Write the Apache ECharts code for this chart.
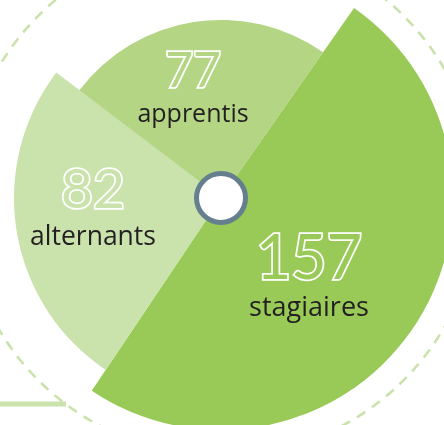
<!DOCTYPE html>
<html><head><meta charset="utf-8">
<script src="https://cdn.jsdelivr.net/npm/echarts@6/dist/echarts.min.js"></script>
<style>html,body{margin:0;padding:0;background:#fff}#c{width:444px;height:425px}</style>
</head><body><div id="c"></div>
<script>
// Data (clockwise order starting at the top-right edge)
const names = ['stagiaires', 'alternants', 'apprentis'];
const values = [157, 82, 77];

// Styling (not data)
const colors = ['#99c957', '#cae2ab', '#b3d584'];
const radii = [232, 207, 178];
const CENTER = [221, 198];
const labelPos = [[309, 278], [93, 210], [193, 91]];
const numSize = [61, 55, 48];
const nameSize = [27, 26.5, 25];
const nameLH = [37, 40, 38];

const chart = echarts.init(document.getElementById('c'), null, {renderer: 'canvas'});

const series = names.map((nm, k) => ({
  type: 'pie',
  silent: true,
  animation: false,
  center: CENTER,
  radius: [0, radii[k]],
  startAngle: 55,
  clockwise: true,
  z: 2 + k,
  labelLine: {show: false},
  label: {
    show: true,
    position: 'inside',
    formatter: p => '{v|' + p.value + '}\n{n|' + p.name + '}',
    rich: {
      v: {fontFamily: 'Lato', fontWeight: 'normal', fontSize: numSize[k], lineHeight: numSize[k], color: colors[k],
          textBorderColor: '#ffffff', textBorderWidth: 3.5, align: 'center'},
      n: {fontFamily: 'Open Sans', fontSize: nameSize[k], lineHeight: nameLH[k], color: '#231f20', align: 'center'}
    }
  },
  labelLayout: () => ({x: labelPos[k][0], y: labelPos[k][1], align: 'center', verticalAlign: 'middle'}),
  data: names.map((n, i) => ({
    name: n, value: values[i],
    itemStyle: {color: i === k ? colors[k] : 'rgba(0,0,0,0)'},
    label: {show: i === k}
  }))
}));

chart.setOption({
  backgroundColor: '#ffffff',
  tooltip: {show: false},
  graphic: [
    {type: 'circle', z: -10, silent: true, shape: {cx: CENTER[0], cy: CENTER[1], r: 258},
     style: {fill: 'none', stroke: '#c9e1aa', lineWidth: 2.5, lineDash: [10, 8]}},
    {type: 'line', z: -10, silent: true, shape: {x1: 0, y1: 404, x2: 66, y2: 404},
     style: {stroke: '#cae2ab', lineWidth: 5}},
    {type: 'circle', z: 100, silent: true, shape: {cx: CENTER[0], cy: CENTER[1], r: 24.5},
     style: {fill: '#ffffff', stroke: '#667f8e', lineWidth: 5}}
  ],
  series: series
});
</script></body></html>
